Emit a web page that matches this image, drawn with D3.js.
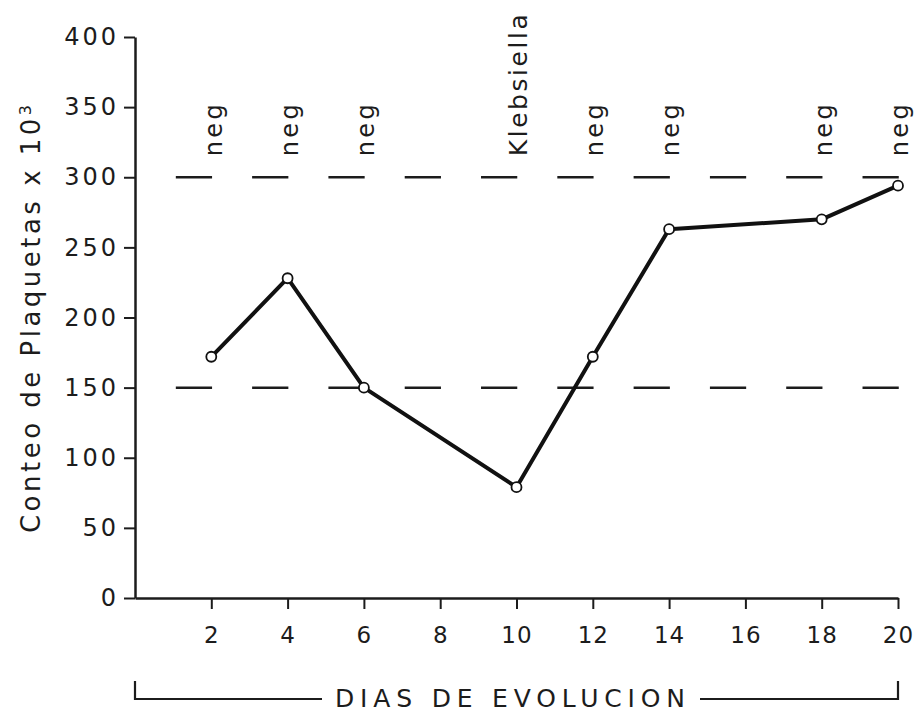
<!DOCTYPE html>
<html>
<head>
<meta charset="utf-8">
<script src="https://cdn.jsdelivr.net/npm/d3@7"></script>
<style>
  body { margin: 0; background: #fff; }
  text { font-family: "DejaVu Sans", sans-serif; fill: #1c1c1c; }
</style>
</head>
<body>
<div id="chart"></div>
<script>
// dias de evolucion y conteo de plaquetas (x 10^3)
var dias = [2, 4, 6, 10, 12, 14, 18, 20];
var plaquetas = [172, 228, 150, 79, 172, 263, 270, 294];
// resultado del hemocultivo en cada dia
var cultivos = ["neg", "neg", "neg", "Klebsiella", "neg", "neg", "neg", "neg"];
var yTicks = [0, 50, 100, 150, 200, 250, 300, 350, 400];
var xTicks = [2, 4, 6, 8, 10, 12, 14, 16, 18, 20];
// limites normales
var limites = [150, 300];

var width = 916, height = 714;
var ink = "#1c1c1c";

var svg = d3.select("#chart").append("svg")
    .attr("width", width)
    .attr("height", height);

var x = d3.scaleLinear().domain([0, 20]).range([135, 898]);
var y = d3.scaleLinear().domain([0, 400]).range([598, 37]);

// eje y
var yAxis = svg.append("g")
    .attr("transform", "translate(" + x(0) + ",0)")
    .call(d3.axisLeft(y).tickValues(yTicks).tickSize(11).tickSizeOuter(0).tickPadding(5))
    .attr("font-family", null)
    .attr("font-size", null);
yAxis.select(".domain").attr("stroke", ink).attr("stroke-width", 2.5);
yAxis.selectAll(".tick line").attr("stroke", ink).attr("stroke-width", 2);
yAxis.selectAll(".tick text")
    .style("font-size", "24px")
    .style("letter-spacing", "3px")
    .attr("fill", ink);

// eje x
var xAxis = svg.append("g")
    .attr("transform", "translate(0," + y(0) + ")")
    .call(d3.axisBottom(x).tickValues(xTicks).tickSize(11).tickSizeOuter(0).tickPadding(18))
    .attr("font-family", null)
    .attr("font-size", null);
xAxis.select(".domain").attr("stroke", ink).attr("stroke-width", 2.5);
xAxis.selectAll(".tick line").attr("stroke", ink).attr("stroke-width", 2);
xAxis.selectAll(".tick text")
    .style("font-size", "23px")
    .style("letter-spacing", "1px")
    .attr("fill", ink);

// lineas de limites (discontinuas)
var dash = x(0.95) - x(0), gap = x(1.05) - x(0);
svg.selectAll(".limite")
    .data(limites)
    .enter().append("line")
    .attr("class", "limite")
    .attr("x1", x(1.07))
    .attr("x2", x(20.02))
    .attr("y1", function(d) { return y(d); })
    .attr("y2", function(d) { return y(d); })
    .attr("stroke", ink)
    .attr("stroke-width", 2.5)
    .attr("stroke-dasharray", dash + "," + gap);

// linea de plaquetas
var puntos = dias.map(function(d, i) { return { dia: d, valor: plaquetas[i], cultivo: cultivos[i] }; });

var line = d3.line()
    .x(function(d) { return x(d.dia); })
    .y(function(d) { return y(d.valor); });

svg.append("path")
    .datum(puntos)
    .attr("d", line)
    .attr("fill", "none")
    .attr("stroke", "#111")
    .attr("stroke-width", 4)
    .attr("stroke-linejoin", "round");

svg.selectAll(".punto")
    .data(puntos)
    .enter().append("circle")
    .attr("class", "punto")
    .attr("cx", function(d) { return x(d.dia); })
    .attr("cy", function(d) { return y(d.valor); })
    .attr("r", 5)
    .attr("fill", "#fff")
    .attr("stroke", "#111")
    .attr("stroke-width", 1.8);

// resultados de cultivo, verticales sobre la linea de 300
svg.selectAll(".cultivo")
    .data(puntos)
    .enter().append("text")
    .attr("class", "cultivo")
    .attr("transform", function(d) { return "translate(" + (x(d.dia) + 3) + "," + (y(300) - 21) + ") rotate(-90)"; })
    .attr("dy", "0.3em")
    .attr("textLength", function(d) { return d.cultivo == "neg" ? 52 : 142; })
    .attr("lengthAdjust", "spacing")
    .style("font-size", function(d) { return d.cultivo == "neg" ? "24px" : "25px"; })
    .text(function(d) { return d.cultivo; });

// titulo eje y
var yTitle = svg.append("text")
    .attr("transform", "translate(31," + 533 + ") rotate(-90)")
    .attr("dy", "0.35em")
    .attr("textLength", 428)
    .attr("lengthAdjust", "spacing")
    .style("font-size", "26px");
yTitle.append("tspan").text("Conteo de Plaquetas x 10");
yTitle.append("tspan").attr("dy", "-0.55em").style("font-size", "16px").text("3");

// titulo eje x con corchete
var yb = 699;
svg.append("path")
    .attr("d", "M" + x(0) + "," + (yb - 18) + "V" + yb + "H322" +
               "M" + 700 + "," + yb + "H" + x(20) + "V" + (yb - 18))
    .attr("fill", "none")
    .attr("stroke", ink)
    .attr("stroke-width", 2.2);

svg.append("text")
    .attr("x", 510)
    .attr("y", 707)
    .attr("text-anchor", "middle")
    .attr("textLength", 350)
    .attr("lengthAdjust", "spacing")
    .style("font-size", "25px")
    .text("DIAS  DE  EVOLUCION");
</script>
</body>
</html>
